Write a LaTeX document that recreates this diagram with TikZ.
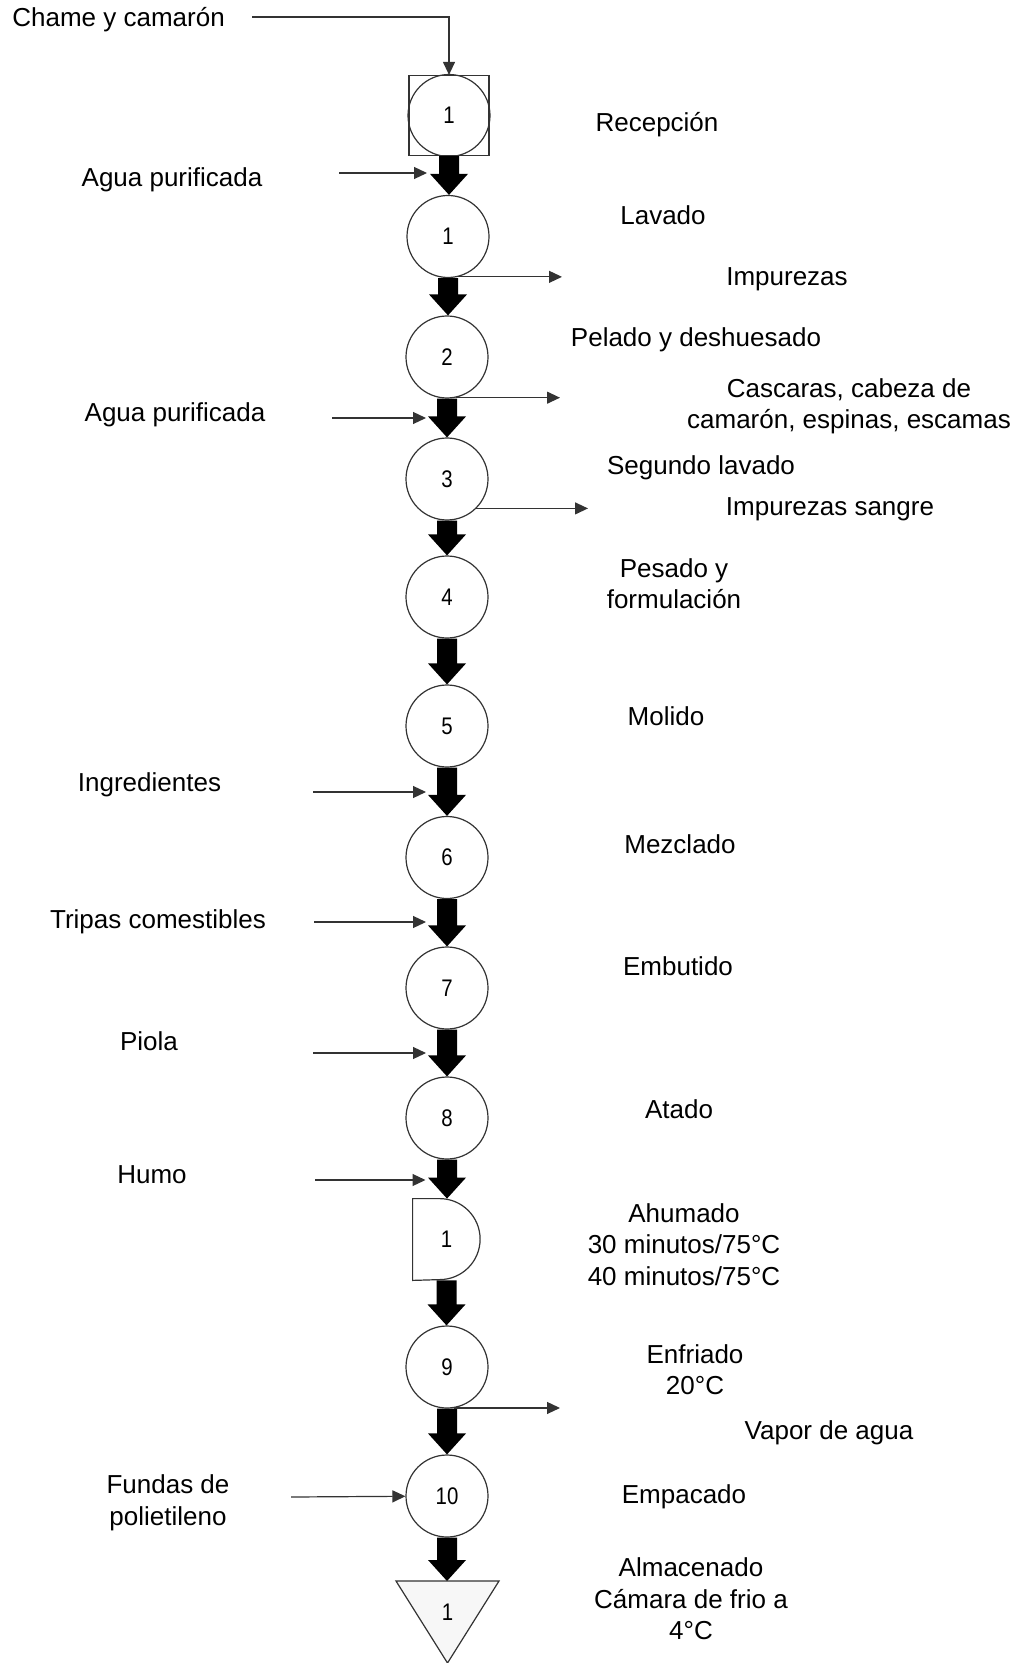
\documentclass[tikz,border=0pt]{standalone}
\usepackage{fontspec}
\setmainfont{Liberation Sans}
\newfontfamily\numfont[FakeStretch=0.85]{Liberation Sans}
\usetikzlibrary{calc,arrows.meta}
\begin{document}
\begin{tikzpicture}[x=0.5pt,y=-0.5pt,
  lbl/.style={font=\fontsize{13pt}{15.7pt}\selectfont, inner sep=0pt, align=center},
  num/.style={font=\numfont\fontsize{12pt}{14pt}\selectfont},
  proc/.style={circle, draw=black!80, line width=0.6pt, minimum size=41pt, inner sep=0pt, num},
  inarr/.style={draw=black!80, line width=0.6pt, -{Triangle[length=6.5pt,width=6pt]}, shorten >=10.5pt},
  outarr/.style={draw=black!80, line width=0.6pt, -{Triangle[length=6.5pt,width=6pt]}},
  shapeline/.style={draw=black!80, line width=0.6pt},
  flow/.style={to path={let \p1=(\tikztostart), \p2=(\tikztotarget) in
     (\x1-5pt,\y1) -- (\x1-5pt,\y2+10.5pt) -- (\x1-9.5pt,\y2+10.5pt) -- (\x1,\y2)
     -- (\x1+9.5pt,\y2+10.5pt) -- (\x1+5pt,\y2+10.5pt) -- (\x1+5pt,\y1) -- cycle}}
]
\useasboundingbox (0,0) rectangle (1020,1663);

% ---- shapes ----
\node[shapeline, rectangle, minimum size=40pt, inner sep=0pt] (sq) at (449,115.5) {};
\node[proc] (r1) at (449,115.5) {1};
\node[proc] (c1) at (448,236.5) {1};
\node[proc] (c2) at (447,357) {2};
\node[proc] (c3) at (447,479) {3};
\node[proc] (c4) at (447,597) {4};
\node[proc] (c5) at (447,726) {5};
\node[proc] (c6) at (447,857.5) {6};
\node[proc] (c7) at (447,988) {7};
\node[proc] (c8) at (447,1118) {8};
\node[minimum width=33.5pt, minimum height=40.5pt, inner sep=0pt, num] (d1) at (446.5,1239.5) {1};
\draw[shapeline] (d1.north west) -- ++(27,0) arc[start angle=90,end angle=-90,radius=20.25pt] -- (d1.south west) -- cycle;
\node[proc] (c9) at (447,1367) {9};
\node[proc] (c10) at (447,1496) {10};
\draw[shapeline, fill=gray!6] (396,1581) -- (499,1581) -- (447.5,1663) -- cycle;
\coordinate (ttop) at (447.5,1581);
\node[num] (t1) at (447.5,1612) {1};

% ---- main flow ----
\fill[black] (sq.south) to[flow] (c1.north);
\fill[black] (c1.south) to[flow] (c2.north);
\fill[black] (c2.south) to[flow] (c3.north);
\fill[black] (c3.south) to[flow] (c4.north);
\fill[black] (c4.south) to[flow] (c5.north);
\fill[black] (c5.south) to[flow] (c6.north);
\fill[black] (c6.south) to[flow] (c7.north);
\fill[black] (c7.south) to[flow] (c8.north);
\fill[black] (c8.south) to[flow] (d1.north);
\fill[black] (d1.south) to[flow] (c9.north);
\fill[black] (c9.south) to[flow] (c10.north);
\fill[black] (c10.south) to[flow] (ttop);

% ---- inputs ----
\coordinate (chs) at (252,17);
\draw[outarr] (chs) -| (sq.north);
\coordinate (ag1) at (339,173);
\draw[inarr] (ag1) -- (ag1 -| c1.north);
\coordinate (ag2) at (332,418);
\draw[inarr] (ag2) -- (ag2 -| c3.north);
\coordinate (ing) at (313,792);
\draw[inarr] (ing) -- (ing -| c6.north);
\coordinate (tri) at (314,922);
\draw[inarr] (tri) -- (tri -| c7.north);
\coordinate (pio) at (313,1053);
\draw[inarr] (pio) -- (pio -| c8.north);
\coordinate (hum) at (315,1180);
\draw[inarr] (hum) -- (hum -| d1.north);
\coordinate (fun) at (291,1497);
\draw[outarr] (fun) -- (c10);

% ---- outputs ----
\coordinate (o1) at (562,277);
\draw[outarr] (c1.-76) -- (c1.-76 -| o1);
\coordinate (o2) at (560,398);
\draw[outarr] (c2.-78) -- (c2.-78 -| o2);
\coordinate (o3) at (588,508);
\draw[outarr] (c3.-45) -- (c3.-45 -| o3);
\coordinate (o9) at (560,1410);
\draw[outarr] (c9.-80) -- (c9.-80 -| o9);

% ---- labels ----
\node[lbl, anchor=base west] (tchame) at (12,27) {Chame y camarón};
\node[lbl, anchor=base] (trec) at (657,132) {Recepción};
\node[lbl, anchor=base] (tag1) at (172,187) {Agua purificada};
\node[lbl, anchor=base] (tlav) at (663,225) {Lavado};
\node[lbl, anchor=base] (timp) at (787,286) {Impurezas};
\node[lbl, anchor=base] (tpel) at (696,347) {Pelado y deshuesado};
\node[lbl, anchor=north] (tcas) at (849,378) {Cascaras, cabeza de\\camarón, espinas, escamas};
\node[lbl, anchor=base] (tag2) at (175,422) {Agua purificada};
\node[lbl, anchor=base] (tseg) at (701,474) {Segundo lavado};
\node[lbl, anchor=base] (timps) at (830,515.5) {Impurezas sangre};
\node[lbl, anchor=north] (tpes) at (674,558) {Pesado y\\formulación};
\node[lbl, anchor=base] (tmol) at (666,725.5) {Molido};
\node[lbl, anchor=base] (ting) at (149.5,791) {Ingredientes};
\node[lbl, anchor=base] (tmez) at (680,853.5) {Mezclado};
\node[lbl, anchor=base] (ttri) at (158,928) {Tripas comestibles};
\node[lbl, anchor=base] (temb) at (678,975.5) {Embutido};
\node[lbl, anchor=base] (tpio) at (149,1050) {Piola};
\node[lbl, anchor=base] (tata) at (679,1118.5) {Atado};
\node[lbl, anchor=base] (thum) at (152,1183.5) {Humo};
\node[lbl, anchor=north] (tahu) at (684,1203) {Ahumado\\30 minutos/75°C\\40 minutos/75°C};
\node[lbl, anchor=north] (tenf) at (695,1344) {Enfriado\\20°C};
\node[lbl, anchor=base] (tvap) at (829,1439) {Vapor de agua};
\node[lbl, anchor=north] (tfun) at (168,1474.5) {Fundas de\\polietileno};
\node[lbl, anchor=base] (temp) at (684,1503.5) {Empacado};
\node[lbl, anchor=north] (talm) at (691,1557.5) {Almacenado\\Cámara de frio a\\4°C};
\end{tikzpicture}
\end{document}
